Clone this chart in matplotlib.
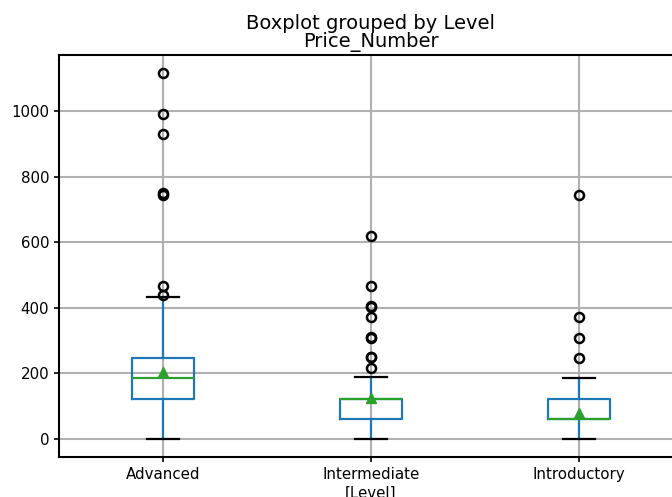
import matplotlib.pyplot as plt

# values
levels = ['Advanced', 'Intermediate', 'Introductory']
q1 = [122, 61, 61]
med = [185, 122, 61]
q3 = [247, 122, 122]
means = [205, 124, 80]
whis_lo = [0, 0, 0]
whis_hi = [433, 187, 185]
fliers = [
    [438, 466, 745, 749, 930, 990, 1115],
    [217, 248, 250, 308, 311, 372, 403, 405, 465, 619],
    [246, 308, 372, 743],
]

stats = []
for i, name in enumerate(levels):
    stats.append({'label': name, 'q1': q1[i], 'med': med[i], 'q3': q3[i],
                  'mean': means[i], 'whislo': whis_lo[i], 'whishi': whis_hi[i],
                  'fliers': fliers[i]})

fig = plt.figure(figsize=(6.72, 4.97), dpi=100)
# the reference is cropped on the right, so the axes run past the figure edge
ax = fig.add_axes([59 / 672, 40 / 497, 624 / 672, 402 / 497])

lw = 1.6
ax.bxp(stats, showmeans=True,
       boxprops=dict(color='#1f77b4', linewidth=lw),
       whiskerprops=dict(color='#1f77b4', linewidth=lw),
       capprops=dict(color='black', linewidth=lw),
       medianprops=dict(color='#2ca02c', linewidth=lw),
       meanprops=dict(marker='^', markerfacecolor='#2ca02c', markeredgecolor='#2ca02c', markersize=7),
       flierprops=dict(marker='o', markerfacecolor='none', markeredgecolor='black',
                       markersize=6.5, markeredgewidth=1.8))

ax.grid(True, color='#b0b0b0', linewidth=1.5)
ax.set_axisbelow(True)
for s in ax.spines.values():
    s.set_linewidth(1.5)
ax.tick_params(width=1.2, labelsize=10.8)

ax.set_title('Price_Number', fontsize=14)
ax.set_xlabel('[Level]', fontsize=10.8, labelpad=3)
fig.text(371 / 672, 1 - 29 / 497, 'Boxplot grouped by Level', ha='center', va='baseline', fontsize=14)

fig.savefig('out.png', dpi=100)
